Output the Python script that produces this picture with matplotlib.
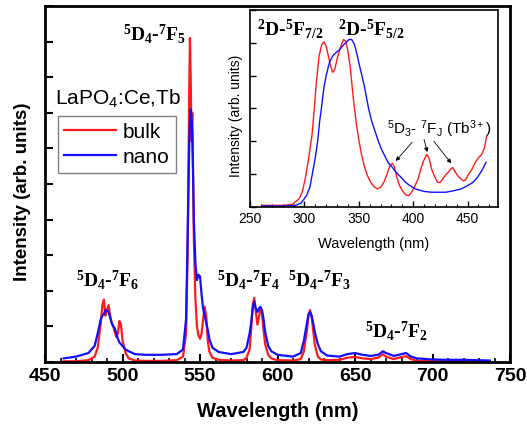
import matplotlib
matplotlib.use("Agg")
import matplotlib.pyplot as plt
from matplotlib.ticker import MultipleLocator

plt.rcParams['font.family'] = 'Liberation Sans'
plt.rcParams['mathtext.fontset'] = 'custom'
plt.rcParams['mathtext.rm'] = 'Liberation Sans'
plt.rcParams['mathtext.it'] = 'Liberation Sans:italic'
plt.rcParams['mathtext.bf'] = 'Liberation Serif:bold'

# emission spectra (excitation into Ce3+), intensity in arbitrary units
em_wl = [462, 470, 478, 482, 484, 486, 487, 488, 489, 490, 491, 492, 493, 494, 495,
         496, 497, 498, 499, 500, 502, 504, 508, 515, 525, 535, 539, 541, 542, 543,
         543.5, 544, 544.5, 545, 545.5, 546, 547, 548, 549, 550, 551, 552, 553, 554,
         555, 556, 558, 562, 570, 578, 580, 582, 583, 584, 585, 586, 587, 588, 589,
         590, 591, 592, 594, 596, 600, 610, 615, 617, 619, 620, 621, 622, 623, 624,
         626, 628, 632, 640, 645, 650, 655, 660, 665, 668, 670, 675, 680, 683, 686,
         690, 700, 710, 720, 737]
em_bulk = [0.02, 0.02, 0.05, 0.15, 0.4, 1.1, 1.6, 1.75, 1.3, 1.45, 1.6, 1.3, 1.1, 1.0, 0.85,
           0.7, 0.8, 1.15, 1.05, 0.6, 0.25, 0.1, 0.04, 0.03, 0.03, 0.05, 0.15, 0.8, 3.0, 7.5,
           9.1, 8.0, 6.2, 7.0, 5.5, 3.5, 1.8, 1.0, 0.75, 0.65, 0.8, 1.2, 1.55, 1.3,
           0.6, 0.3, 0.12, 0.06, 0.04, 0.05, 0.12, 0.35, 0.9, 1.6, 1.8, 1.4, 1.05, 1.25, 1.5,
           1.35, 0.9, 0.5, 0.2, 0.1, 0.05, 0.04, 0.08, 0.3, 0.9, 1.3, 1.46, 1.25, 0.9, 0.5,
           0.15, 0.07, 0.05, 0.06, 0.12, 0.14, 0.1, 0.08, 0.12, 0.22, 0.15, 0.08, 0.14, 0.16, 0.08,
           0.03, 0.02, 0.02, 0.02, 0.02]
em_nano = [0.1, 0.15, 0.25, 0.45, 0.8, 1.2, 1.3, 1.35, 1.45, 1.45, 1.4, 1.25, 1.1, 1.0, 0.95,
           0.8, 0.65, 0.55, 0.5, 0.45, 0.35, 0.3, 0.22, 0.2, 0.2, 0.22, 0.35, 1.2, 3.5, 6.0,
           6.8, 7.1, 6.9, 6.4, 5.3, 4.0, 2.8, 2.3, 2.45, 2.4, 1.9, 1.5, 1.3, 1.1,
           0.9, 0.65, 0.4, 0.28, 0.22, 0.28, 0.4, 0.8, 1.1, 1.5, 1.7, 1.5, 1.4, 1.5, 1.55,
           1.45, 1.2, 0.85, 0.45, 0.3, 0.2, 0.15, 0.25, 0.6, 1.1, 1.35, 1.4, 1.3, 1.1, 0.85,
           0.5, 0.3, 0.18, 0.15, 0.22, 0.25, 0.2, 0.17, 0.2, 0.3, 0.25, 0.17, 0.22, 0.25, 0.15,
           0.1, 0.07, 0.06, 0.06, 0.04]

# excitation spectra (inset)
ex_wl_bulk = [261, 280, 289, 295, 298, 301, 304, 307, 309, 311, 313.5, 316, 318, 320, 322,
              324, 326, 328, 330, 333, 336, 338, 340, 342, 345, 347.5, 350, 352.5, 355, 358,
              361, 364, 367, 370, 373, 376, 378.5, 381, 383, 385, 387.5, 390, 393.5, 396, 398,
              401, 404.5, 407, 409.5, 412.5, 414.5, 417, 420, 422.5, 425, 427, 430, 432, 434.5,
              436.5, 439, 441, 444, 446, 448, 451, 454, 457, 460, 463, 465.5, 467.5]
ex_bulk = [0.05, 0.05, 0.08, 0.25, 0.45, 0.9, 1.5, 2.2, 2.95, 3.8, 4.6, 4.95, 5.03, 4.9, 4.6,
           4.3, 4.1, 4.2, 4.5, 4.85, 5.1, 5.05, 4.75, 4.3, 3.3, 2.6, 2.05, 1.6, 1.25, 0.95,
           0.75, 0.62, 0.55, 0.6, 0.75, 1.0, 1.25, 1.33, 1.2, 0.9, 0.65, 0.5, 0.36, 0.35, 0.42,
           0.6, 0.85, 1.15, 1.4, 1.6, 1.5, 1.15, 0.9, 0.75, 0.75, 0.85, 0.98, 1.05, 1.15,
           1.2, 1.05, 0.95, 0.85, 0.8, 0.82, 1.0, 1.15, 1.35, 1.5, 1.6, 1.8, 2.15]
ex_wl_nano = [261, 280, 292, 297, 302, 305, 307, 310, 312, 314, 316, 318, 320, 323, 326,
              329, 332, 335, 338, 341, 343.5, 346, 348, 350, 352.5, 355, 357, 359, 362, 365,
              368, 371, 374, 377, 381, 384.5, 389, 393, 397, 402, 407, 411, 417, 423, 430,
              438, 444, 450, 455, 459, 463, 467]
ex_nano = [0.03, 0.03, 0.05, 0.12, 0.35, 0.6, 0.95, 1.5, 1.95, 2.6, 3.1, 3.65, 4.0, 4.4, 4.6,
           4.7, 4.78, 4.9, 5.0, 5.1, 5.1, 4.95, 4.7, 4.4, 4.05, 3.7, 3.35, 3.0, 2.6, 2.3,
           2.0, 1.75, 1.55, 1.35, 1.2, 1.05, 0.9, 0.75, 0.65, 0.55, 0.5, 0.47, 0.45, 0.45, 0.45,
           0.5, 0.55, 0.65, 0.75, 0.9, 1.1, 1.36]

em_labels = [r'$\mathbf{^{5}D_{4}}$-$\mathbf{^{7}F_{5}}$', r'$\mathbf{^{5}D_{4}}$-$\mathbf{^{7}F_{6}}$',
             r'$\mathbf{^{5}D_{4}}$-$\mathbf{^{7}F_{4}}$', r'$\mathbf{^{5}D_{4}}$-$\mathbf{^{7}F_{3}}$',
             r'$\mathbf{^{5}D_{4}}$-$\mathbf{^{7}F_{2}}$']
em_label_x = [521, 490.5, 581.5, 627.5, 676.5]
em_label_y = [9.25, 2.33, 2.33, 2.33, 0.9]

fig = plt.figure(figsize=(5.27, 4.27), dpi=100)
ax = fig.add_axes([0.0854, 0.150, 0.8824, 0.8337])

ax.plot(em_wl, em_bulk, color='#ff1a1a', lw=1.6, label='bulk')
ax.plot(em_wl, em_nano, color='#1010ff', lw=1.6, label='nano')
ax.set_xlim(450, 750)
ax.set_ylim(0, 10)
ax.xaxis.set_major_locator(MultipleLocator(50))
ax.xaxis.set_minor_locator(MultipleLocator(10))
ax.yaxis.set_major_locator(MultipleLocator(1))
ax.set_yticklabels([])
ax.tick_params(which='major', direction='in', length=6, width=1.5, labelsize=14)
ax.tick_params(which='minor', direction='in', length=3, width=1.2)
for lab in ax.get_xticklabels():
    lab.set_fontweight('bold')
for sp in ax.spines.values():
    sp.set_linewidth(2)

ax.set_xlabel('Wavelength (nm)', fontsize=14.5, fontweight='bold')
ax.set_ylabel('Intensity (arb. units)', fontsize=13.5, fontweight='bold')
ax.xaxis.set_label_coords(0.5, -0.11)
ax.yaxis.set_label_coords(-0.03, 0.48)

for txt, x, y in zip(em_labels, em_label_x, em_label_y):
    ax.text(x, y, txt, ha='center', va='center', fontsize=14,
            fontfamily='Liberation Serif', fontweight='bold')

ax.text(0.0215, 0.742, r'LaPO$_4$:Ce,Tb', transform=ax.transAxes,
        ha='left', va='center', fontsize=15)
leg = ax.legend(loc='upper left', bbox_to_anchor=(0.028, 0.691), borderaxespad=0,
                fontsize=15, handlelength=2.5, labelspacing=0.3, borderpad=0.3,
                handletextpad=0.3, fancybox=False, framealpha=1)
leg.get_frame().set_edgecolor('#808080')
leg.get_frame().set_linewidth(1)

# inset: excitation spectra
axin = fig.add_axes([0.4744, 0.5129, 0.4706, 0.4614])
axin.plot(ex_wl_bulk, ex_bulk, color='#ff1a1a', lw=1.0)
axin.plot(ex_wl_nano, ex_nano, color='#1010ff', lw=1.0)
axin.set_xlim(250, 478)
axin.set_ylim(0, 6)
axin.xaxis.set_major_locator(MultipleLocator(50))
axin.xaxis.set_minor_locator(MultipleLocator(10))
axin.yaxis.set_major_locator(MultipleLocator(1))
axin.set_yticklabels([])
axin.tick_params(which='major', direction='in', length=4, width=1, labelsize=10, pad=3)
axin.tick_params(which='minor', direction='in', length=2, width=0.8)
for sp in axin.spines.values():
    sp.set_linewidth(1.2)
axin.set_xlabel('Wavelength (nm)', fontsize=10.5)
axin.set_ylabel('Intensity (arb. units)', fontsize=10)
axin.xaxis.set_label_coords(0.5, -0.145)
axin.yaxis.set_label_coords(-0.03, 0.47)

axin.text(287, 5.45, r'$\mathbf{^{2}D}$-$\mathbf{^{5}F_{7/2}}$', ha='center', va='center',
          fontsize=14, fontfamily='Liberation Serif', fontweight='bold')
axin.text(361, 5.45, r'$\mathbf{^{2}D}$-$\mathbf{^{5}F_{5/2}}$', ha='center', va='center',
          fontsize=14, fontfamily='Liberation Serif', fontweight='bold')
axin.text(424, 2.4, r'$^5$D$_3$- $^7$F$_\mathrm{J}$ (Tb$^{3+}$)', ha='center', va='center',
          fontsize=11)

arrow_from = [(399, 1.97), (410, 2.06), (419, 2.0)]
arrow_to = [(384, 1.4), (413, 1.67), (435, 1.33)]
for (x0, y0), (x1, y1) in zip(arrow_from, arrow_to):
    axin.annotate('', xy=(x1, y1), xytext=(x0, y0),
                  arrowprops=dict(arrowstyle='-|>', color='black', lw=0.6,
                                  mutation_scale=6, shrinkA=0, shrinkB=0))

fig.savefig('out.png', dpi=100)
